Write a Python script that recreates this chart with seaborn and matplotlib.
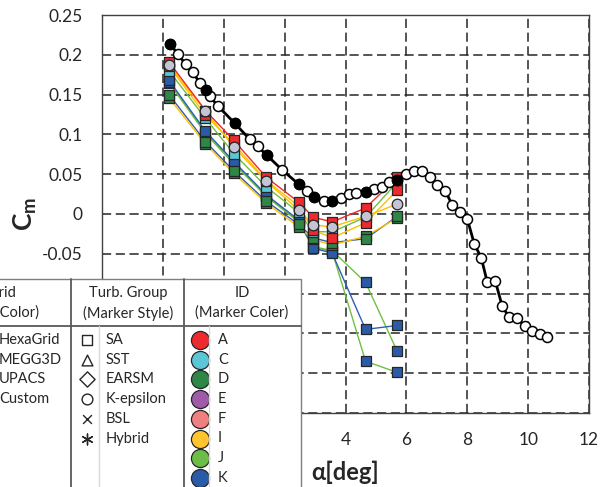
import numpy as np
import pandas as pd
import matplotlib
matplotlib.use("Agg")
import matplotlib.pyplot as plt
import seaborn as sns
from matplotlib.patches import Rectangle

# ---------------- data ----------------
# wind-tunnel pitching moment (one continuous polar)
exp_alpha = [-1.77, -1.51, -1.25, -1.02, -0.79, -0.59, -0.46, -0.20, 0.36, 0.85,
             1.11, 1.41, 1.93, 2.46, 2.72, 2.95, 3.28, 3.57, 3.84, 4.10,
             4.36, 4.66, 4.92, 5.21, 5.44, 5.70, 6.00, 6.26, 6.52, 6.79,
             7.02, 7.28, 7.51, 7.77, 8.00, 8.23, 8.46, 8.66, 8.92, 9.15,
             9.38, 9.64, 9.90, 10.13, 10.39, 10.62]
exp_cm = [0.214, 0.201, 0.188, 0.178, 0.165, 0.156, 0.148, 0.136, 0.114, 0.094,
          0.085, 0.074, 0.055, 0.0375, 0.029, 0.021, 0.016, 0.016, 0.020, 0.025,
          0.026, 0.0275, 0.031, 0.034, 0.040, 0.0425, 0.050, 0.054, 0.054, 0.046,
          0.036, 0.029, 0.011, 0.0025, -0.006, -0.0375, -0.055, -0.086, -0.084, -0.116,
          -0.130, -0.131, -0.141, -0.1475, -0.151, -0.155]
# points of the polar at the computed incidences (drawn filled)
exp_filled = [0, 5, 8, 11, 13, 15, 17, 21, 25]

# CFD incidences
cfd_alpha = [-1.8, -0.6, 0.33, 1.4, 2.46, 2.94, 3.56, 4.66, 5.7]

cm_A1 = [0.191, 0.130, 0.0925, 0.046, 0.015, -0.004, -0.010, 0.0075, 0.046]
cm_A2 = [0.186, 0.124, 0.088, 0.042, 0.010, -0.020, -0.030, -0.011, 0.030]
cm_C = [0.180, 0.120, 0.076, 0.034, 0.002, -0.022, -0.0225, -0.004, 0.040]
cm_K1 = [0.168, 0.104, 0.066, 0.024, -0.0075, -0.043, -0.049, -0.145, -0.140]
cm_K2 = [0.166, 0.102, 0.064, 0.023, -0.009, -0.041, -0.046, -0.086, -0.1725]
cm_K3 = [0.165, 0.101, 0.063, 0.022, -0.010, -0.042, -0.047, -0.185, -0.199]
cm_D1 = [0.150, 0.091, 0.054, 0.016, -0.013, -0.030, -0.036, -0.031, -0.003]
cm_D2 = [0.146, 0.088, 0.051, 0.0135, -0.016, -0.032, -0.039, -0.028, -0.005]
cm_G = [0.1875, 0.129, 0.084, 0.041, 0.005, -0.014, -0.016, -0.003, 0.0125]

# series: (name, values, grid, turbulence model, id)
series = [
    ("K3", cm_K3, "MEGG3D", "SA", "K"),
    ("K2", cm_K2, "MEGG3D", "SA", "K"),
    ("K1", cm_K1, "UPACS", "SA", "K"),
    ("D2", cm_D2, "HexaGrid", "SA", "D"),
    ("D1", cm_D1, "UPACS", "SA", "D"),
    ("C", cm_C, "MEGG3D", "SA", "C"),
    ("A2", cm_A2, "HexaGrid", "SA", "A"),
    ("A1", cm_A1, "Custom", "SA", "A"),
    ("G", cm_G, "HexaGrid", "K-epsilon", "G"),
]

grid_names = ["HexaGrid", "MEGG3D", "UPACS", "Custom"]
grid_colors = {"HexaGrid": "#FFC000", "MEGG3D": "#70BF44",
               "UPACS": "#2F5FB3", "Custom": "#F0282D"}
turb_names = ["SA", "SST", "EARSM", "K-epsilon", "BSL", "Hybrid"]
turb_markers = {"SA": "s", "SST": "^", "EARSM": "D", "K-epsilon": "o",
                "BSL": "x", "Hybrid": (6, 2, 0)}
id_names = ["A", "C", "D", "E", "F", "I", "J", "K"]
id_colors = {"A": "#EE2A2F", "C": "#5AC6D6", "D": "#2E8647", "E": "#A05AAA",
             "F": "#F08080", "I": "#FFC42E", "J": "#6CBD45", "K": "#2A5BA8",
             "G": "#C4C4D4"}

# tick values that sit under the legend table carry no label
x_ticks = [-4, -2, 0, 2, 4, 6, 8, 10, 12]
x_ticklabels = ["", "", "", "", "4", "6", "8", "10", "12"]
y_ticks = [-0.25, -0.2, -0.15, -0.1, -0.05, 0, 0.05, 0.1, 0.15, 0.2, 0.25]
y_ticklabels = ["", "", "", "", "-0.05", "0", "0.05", "0.1", "0.15", "0.2", "0.25"]

# ---------------- style ----------------
sns.set_theme(style="white")
plt.rcParams["font.family"] = ["Lato", "DejaVu Sans"]
plt.rcParams["mathtext.fontset"] = "custom"
plt.rcParams["mathtext.rm"] = "Lato"
plt.rcParams["mathtext.bf"] = "Lato:bold"
txt = "#262626"

fig = plt.figure(figsize=(6.0, 4.87), dpi=100)
W, H = 600, 487
ax = fig.add_axes([102 / W, 1 - 413 / H, (589 - 102) / W, (413 - 15) / H])

# CFD lines (colour = grid)
rows = []
for name, vals, grid, turb, ident in series:
    for a, c in zip(cfd_alpha, vals):
        rows.append({"alpha": a, "cm": c, "series": name, "grid": grid})
cfd = pd.DataFrame(rows)
sns.lineplot(data=cfd, x="alpha", y="cm", units="series", hue="grid",
             palette=grid_colors, estimator=None, sort=False, lw=1.0,
             legend=False, ax=ax, zorder=3)

# CFD markers (style = turbulence model, fill = id)
for name, vals, grid, turb, ident in series:
    sns.scatterplot(x=cfd_alpha, y=vals, marker=turb_markers[turb],
                    color=id_colors[ident], edgecolor="#262626", linewidth=0.9,
                    s=50 if turb == "SA" else 58, ax=ax, zorder=4, legend=False)

# experiment
exp = pd.DataFrame({"alpha": exp_alpha, "cm": exp_cm})
sns.lineplot(data=exp, x="alpha", y="cm", sort=False, color="black", lw=2.0,
             ax=ax, zorder=5, legend=False)
sns.scatterplot(data=exp, x="alpha", y="cm", marker="o", color="white",
                edgecolor="black", linewidth=1.1, s=52, ax=ax, zorder=6,
                legend=False)
fexp = exp.iloc[exp_filled]
sns.scatterplot(data=fexp, x="alpha", y="cm", marker="o", color="black",
                edgecolor="black", linewidth=1.1, s=52, ax=ax, zorder=7,
                legend=False)

# axes
ax.set_xlim(-4, 12)
ax.set_ylim(-0.25, 0.25)
ax.set_xticks(x_ticks)
ax.set_xticklabels(x_ticklabels)
ax.set_yticks(y_ticks)
ax.set_yticklabels(y_ticklabels)
ax.tick_params(length=0, labelsize=12.5, colors=txt, pad=14)
ax.grid(True, color="#262626", lw=1.1, ls=(0, (6, 3)))
for sp in ax.spines.values():
    sp.set_color("#404040")
    sp.set_linewidth(1.0)
ax.set_xlabel("α[deg]", fontsize=17, fontweight="bold", color=txt)
ax.xaxis.set_label_coords(0.5, -0.148)
ax.xaxis.label.set_va("center")
ax.set_ylabel(r"$\mathbf{C}_\mathbf{m}$", fontsize=19, color=txt)
ax.yaxis.set_label_coords(-0.158, 0.5)
ax.yaxis.label.set_va("center")

# ---------------- legend table ----------------
lg = fig.add_axes([0, 0, 1, 1], zorder=10)
lg.set_xlim(0, W)
lg.set_ylim(H, 0)
lg.axis("off")
lg.patch.set_visible(False)
lg.add_patch(Rectangle((-90, 279), 391, 240, facecolor="white",
                       edgecolor="#7F7F7F", lw=1.0, clip_on=False))
dark = "#595959"
lg.plot([-90, 301], [326, 326], color=dark, lw=1.3)
lg.plot([71, 71], [279, 490], color=dark, lw=1.3)
lg.plot([184, 184], [279, 490], color=dark, lw=1.3)
lg.plot([99, 99], [326, 490], color="#D9D9D9", lw=1.0)
lg.plot([209, 209], [326, 490], color="#D9D9D9", lw=1.0)

fs = 10.5
for cx, l1, l2 in [(2, "Grid", "(Line Color)"),
                   (128, "Turb. Group", "(Marker Style)"),
                   (242, "ID", "(Marker Coler)")]:
    lg.text(cx, 293, l1, ha="center", va="center", fontsize=fs, color=txt)
    lg.text(cx, 313, l2, ha="center", va="center", fontsize=fs, color=txt)

row_y = [340 + 19.7 * i for i in range(8)]
for i, g in enumerate(grid_names):
    lg.plot([-60, -12], [row_y[i], row_y[i]], color=grid_colors[g], lw=1.5)
    lg.text(-1, row_y[i], g, ha="left", va="center", fontsize=fs, color=txt)
for i, t in enumerate(turb_names):
    m = turb_markers[t]
    lg.scatter([87], [row_y[i]], marker=m, s=60 if m != "x" else 40,
               facecolor="white" if m not in ("x", (6, 2, 0)) else "#262626",
               edgecolor="#262626", linewidth=1.0)
    lg.text(106, row_y[i], t, ha="left", va="center", fontsize=fs, color=txt)
for i, d in enumerate(id_names):
    lg.scatter([200], [row_y[i]], marker="o", s=170, facecolor=id_colors[d],
               edgecolor="#262626", linewidth=0.9)
    lg.text(218, row_y[i], d, ha="left", va="center", fontsize=fs, color=txt)

fig.savefig("out.png", dpi=100)
